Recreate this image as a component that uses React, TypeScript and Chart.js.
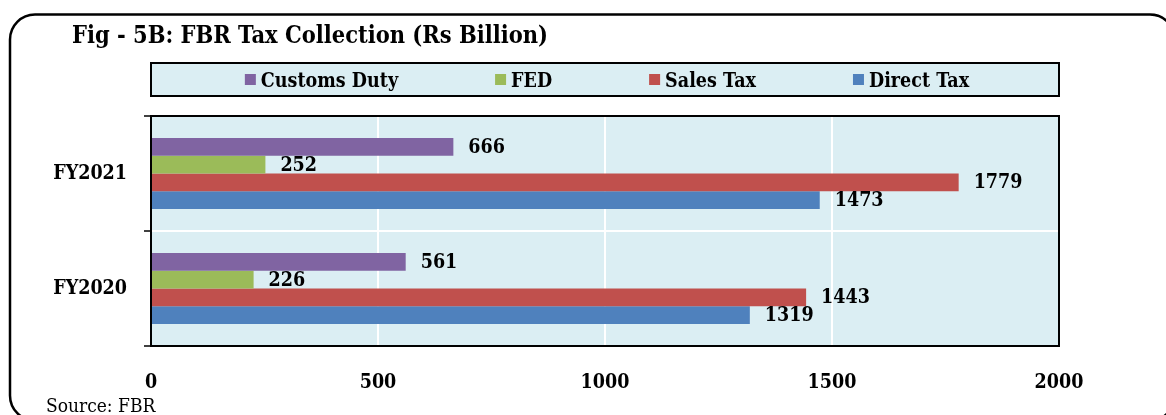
import React, { useEffect, useRef } from 'react';
import { Chart, registerables } from 'chart.js';

Chart.register(...registerables);

// ---- data ----
const categories = ['FY2021', 'FY2020'];
const seriesNames = ['Customs Duty', 'FED', 'Sales Tax', 'Direct Tax'];
const customsDuty = [666, 561];
const fed = [252, 226];
const salesTax = [1779, 1443];
const directTax = [1473, 1319];
const seriesColors = ['#8064A2', '#9BBB59', '#C0504D', '#4F81BD'];
const xMin = 0;
const xMax = 2000;
const xStep = 500;
const titleText = 'Fig - 5B: FBR Tax Collection (Rs Billion)';
const sourceText = 'Source: FBR';

const W = 1166;
const H = 415;
const FAM = "'DejaVu Serif Condensed', 'DejaVu Serif', serif";
const PLOT_BG = '#DBEEF3';

const decorPlugin = {
  id: 'decor',
  beforeDraw(chart: any) {
    const { ctx, chartArea } = chart;
    ctx.save();
    ctx.fillStyle = '#ffffff';
    ctx.fillRect(0, 0, W, H);
    ctx.fillStyle = PLOT_BG;
    ctx.fillRect(chartArea.left, chartArea.top, chartArea.right - chartArea.left, chartArea.bottom - chartArea.top);
    ctx.restore();
  },
  afterDatasetsDraw(chart: any) {
    const { ctx } = chart;
    ctx.save();
    ctx.font = `bold 19.5px ${FAM}`;
    ctx.fillStyle = '#000';
    ctx.textAlign = 'left';
    ctx.textBaseline = 'middle';
    chart.data.datasets.forEach((ds: any, di: number) => {
      const meta = chart.getDatasetMeta(di);
      meta.data.forEach((el: any, i: number) => {
        ctx.fillText(String(ds.data[i]), el.x + 15, el.y + 1);
      });
    });
    ctx.restore();
  },
  afterDraw(chart: any) {
    const { ctx, chartArea } = chart;
    ctx.save();
    // plot frame
    ctx.strokeStyle = '#000';
    ctx.lineWidth = 2;
    ctx.strokeRect(chartArea.left, chartArea.top, chartArea.right - chartArea.left, chartArea.bottom - chartArea.top);

    // outer rounded frame
    ctx.lineWidth = 2.5;
    ctx.beginPath();
    (ctx as any).roundRect(10, 14.5, 1165, 406, 25);
    ctx.stroke();

    // title
    ctx.fillStyle = '#000';
    ctx.font = `bold 23.4px ${FAM}`;
    ctx.textAlign = 'left';
    ctx.textBaseline = 'alphabetic';
    ctx.fillText(titleText, 72, 43);

    // source
    ctx.font = `19px ${FAM}`;
    ctx.fillText(sourceText, 46, 411.5);

    // legend box
    const lx = chartArea.left;
    const lw = chartArea.right - chartArea.left;
    const ly = 63;
    const lh = 33;
    ctx.fillStyle = PLOT_BG;
    ctx.fillRect(lx, ly, lw, lh);
    ctx.strokeStyle = '#000';
    ctx.lineWidth = 2;
    ctx.strokeRect(lx, ly, lw, lh);

    ctx.font = `bold 19.5px ${FAM}`;
    const sq = 11;
    const gapText = 5;
    const gapItem = 97;
    const items = chart.data.datasets.map((ds: any) => ({
      label: ds.label,
      color: ds.backgroundColor,
      w: sq + gapText + ctx.measureText(ds.label).width,
    }));
    const total = items.reduce((a: number, it: any) => a + it.w, 0) + gapItem * (items.length - 1);
    let x = lx + lw / 2 - total / 2 + 2;
    items.forEach((it: any) => {
      ctx.fillStyle = it.color;
      ctx.fillRect(x, 74, sq, sq);
      ctx.fillStyle = '#000';
      ctx.fillText(it.label, x + sq + gapText, 87);
      x += it.w + gapItem;
    });
    ctx.restore();
  },
};

export default function App() {
  const ref = useRef<HTMLCanvasElement | null>(null);

  useEffect(() => {
    if (!ref.current) return;
    const seriesValues = [customsDuty, fed, salesTax, directTax];
    const chart = new Chart(ref.current, {
      type: 'bar',
      data: {
        labels: categories,
        datasets: seriesNames.map((name, i) => ({
          label: name,
          data: seriesValues[i],
          backgroundColor: seriesColors[i],
          borderWidth: 0,
          barPercentage: 1,
          categoryPercentage: 0.616,
        })),
      },
      options: {
        indexAxis: 'y',
        responsive: false,
        animation: false,
        devicePixelRatio: 1,
        layout: { padding: { top: 116, right: 107, left: 0, bottom: 0 } },
        plugins: {
          legend: { display: false },
          title: { display: false },
          tooltip: { enabled: false },
        },
        scales: {
          x: {
            min: xMin,
            max: xMax,
            ticks: {
              stepSize: xStep,
              color: '#000',
              font: { family: FAM, size: 19.5, weight: 'bold' },
              padding: 25,
              callback: (v: any) => String(v),
            },
            grid: { color: '#ffffff', lineWidth: 2, drawTicks: false },
            border: { color: '#000', width: 2 },
            afterFit: (s: any) => {
              s.height = H - 346;
            },
          },
          y: {
            offset: true,
            ticks: {
              color: '#000',
              font: { family: FAM, size: 19.5, weight: 'bold' },
              padding: 17,
            },
            grid: {
              color: '#ffffff',
              lineWidth: 2,
              offset: true,
              tickColor: '#000',
              tickLength: 7,
              tickWidth: 1.5,
            },
            border: { color: '#000', width: 2 },
            afterFit: (s: any) => {
              s.width = 151;
            },
          },
        },
      },
      plugins: [decorPlugin],
    } as any);
    return () => chart.destroy();
  }, []);

  return (
    <div style={{ position: 'absolute', left: 0, top: 0, width: W, height: H }}>
      <canvas ref={ref} width={W} height={H} style={{ display: 'block', width: W, height: H }} />
    </div>
  );
}
